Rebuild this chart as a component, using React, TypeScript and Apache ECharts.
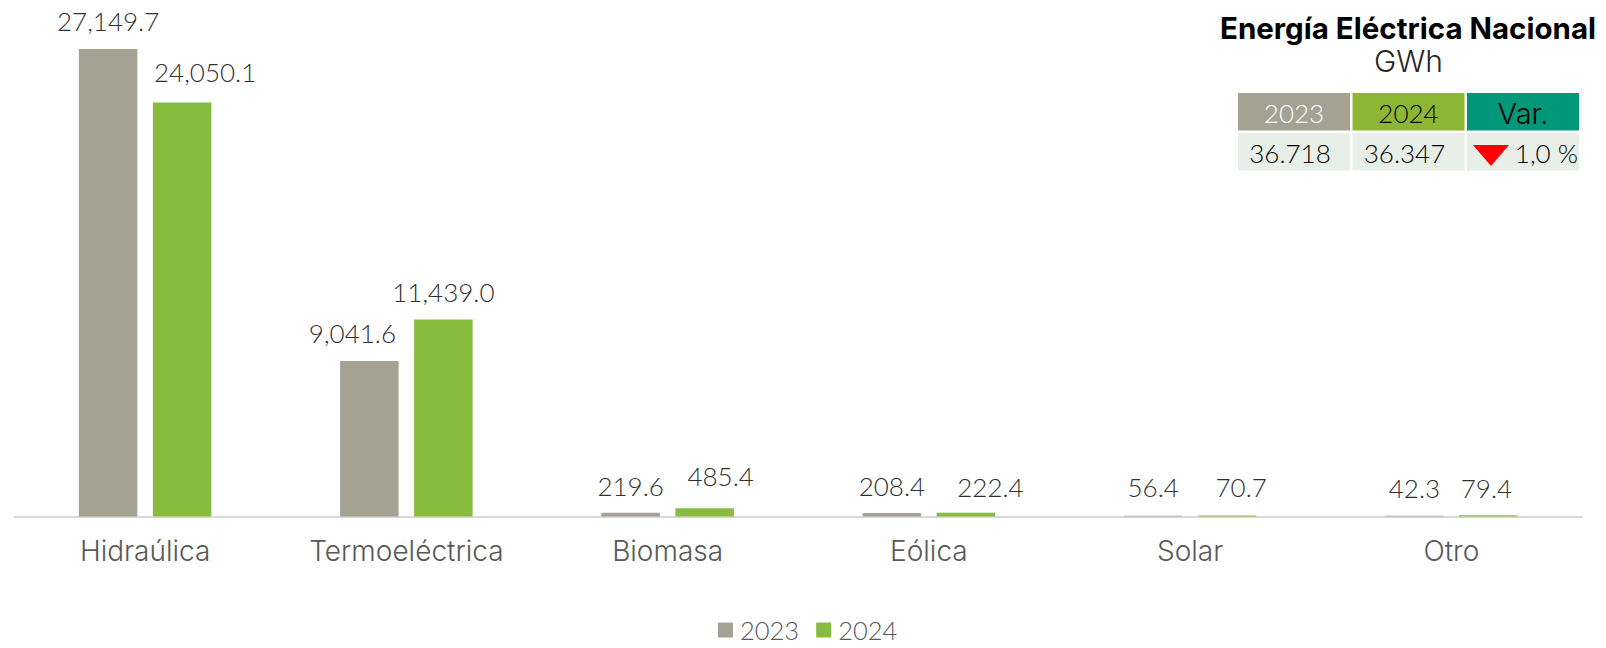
import React, { useEffect, useRef } from "react";
import * as echarts from "echarts";

const categories = ["Hidraúlica", "Termoeléctrica", "Biomasa", "Eólica", "Solar", "Otro"];
const seriesNames = ["2023", "2024"];
const values2023 = [27149.7, 9041.6, 219.6, 208.4, 56.4, 42.3];
const values2024 = [24050.1, 11439.0, 485.4, 222.4, 70.7, 79.4];
const titleText = "Energía Eléctrica Nacional";
const unitText = "GWh";
const tableHeaders = ["2023", "2024", "Var."];
const tableValues = ["36.718", "36.347", "1,0 %"];

// label nudges (style only)
const offsets2023 = [[0, -13], [-17, -13], [0, -12], [0, -12], [0, -13.6], [0, -13]];
const offsets2024 = [[23, -15.7], [0, -12.6], [16, -17], [24.6, -11], [14, -13.4], [-2, -12]];

const FONT = "Lato";
const WIDE = "Inter";
const GREY = "#A5A294";
const GREEN = "#87BC3F";
const fmt = (v: number) =>
  v.toLocaleString("en-US", { minimumFractionDigits: 1, maximumFractionDigits: 1 });

function barSeries(name: string, vals: number[], offs: number[][], color: string) {
  return {
    name,
    type: "bar",
    barWidth: 58.5,
    barGap: "26.5%",
    itemStyle: { color },
    data: vals.map((v, i) => ({
      value: v,
      label: {
        show: true,
        position: "top",
        distance: 0,
        offset: offs[i],
        formatter: fmt(v),
        color: "#303030",
        fontFamily: FONT,
        fontWeight: 300,
        fontSize: 26,
        lineHeight: 30,
      },
    })),
  };
}

function cell(x: number, y: number, w: number, h: number, fill: string) {
  return { type: "rect", shape: { x, y, width: w, height: h }, style: { fill }, silent: true };
}
function txt(x: number, y: number, text: string, fill: string, size: number, weight: any = 300, align = "center", family = FONT) {
  return {
    type: "text",
    x,
    y,
    silent: true,
    style: { text, fill, fontFamily: family, fontSize: size, fontWeight: weight, align, verticalAlign: "middle" },
  };
}

export default function App() {
  const ref = useRef<HTMLDivElement>(null);
  useEffect(() => {
    const chart = echarts.init(ref.current!, undefined, { renderer: "svg" });
    const colX = [1238, 1352.5, 1467];
    const colW = 112;
    chart.setOption({
      animation: false,
      backgroundColor: "#FFFFFF",
      grid: { left: 14.5, width: 1567.5, top: 0, height: 516.6, containLabel: false },
      xAxis: {
        type: "category",
        data: categories,
        axisTick: { show: false },
        axisLine: { lineStyle: { color: "#D9D9D9", width: 2 } },
        axisLabel: { color: "#595959", fontFamily: WIDE, fontWeight: 300, fontSize: 28, margin: 19, lineHeight: 30 },
      },
      yAxis: { type: "value", min: 0, max: 30000, show: false, splitLine: { show: false } },
      legend: {
        data: seriesNames,
        left: 718,
        top: 617,
        itemWidth: 15,
        itemHeight: 15,
        itemGap: 17,
        icon: "rect",
        textStyle: { color: "#595959", fontFamily: FONT, fontWeight: 300, fontSize: 25.5, padding: [0, 0, 0, 2] },
        padding: 0,
      },
      series: [
        barSeries(seriesNames[0], values2023, offsets2023, GREY),
        barSeries(seriesNames[1], values2024, offsets2024, GREEN),
      ],
      graphic: [
        txt(1408, 28, titleText, "#000000", 29.5, "bold", "center", WIDE),
        txt(1408.5, 61, unitText, "#262626", 30, 300, "center", WIDE),
        cell(colX[0], 93, colW, 37.5, GREY),
        cell(colX[1], 93, colW, 37.5, "#8DB733"),
        cell(colX[2], 93, colW, 37.5, "#009878"),
        cell(colX[0], 133, colW, 37.5, "#E8EFE8"),
        cell(colX[1], 133, colW, 37.5, "#E8EFE8"),
        cell(colX[2], 133, colW, 37.5, "#E8EFE8"),
        txt(colX[0] + colW / 2, 113, tableHeaders[0], "#FFFFFF", 26),
        txt(colX[1] + colW / 2, 113, tableHeaders[1], "#000000", 26),
        txt(colX[2] + colW / 2, 113, tableHeaders[2], "#000000", 29, 300, "center", WIDE),
        txt(colX[0] + colW / 2 - 4, 153, tableValues[0], "#000000", 26),
        txt(colX[1] + colW / 2 - 4, 153, tableValues[1], "#000000", 26),
        {
          type: "polygon",
          silent: true,
          shape: { points: [[1473, 145], [1509, 145], [1491, 166]] },
          style: { fill: "#FF0000" },
        },
        txt(1578, 153, tableValues[2], "#000000", 26, 300, "right"),
      ],
    });
    return () => chart.dispose();
  }, []);
  return <div ref={ref} style={{ position: "fixed", left: 0, top: 0, width: 1606, height: 648 }} />;
}
